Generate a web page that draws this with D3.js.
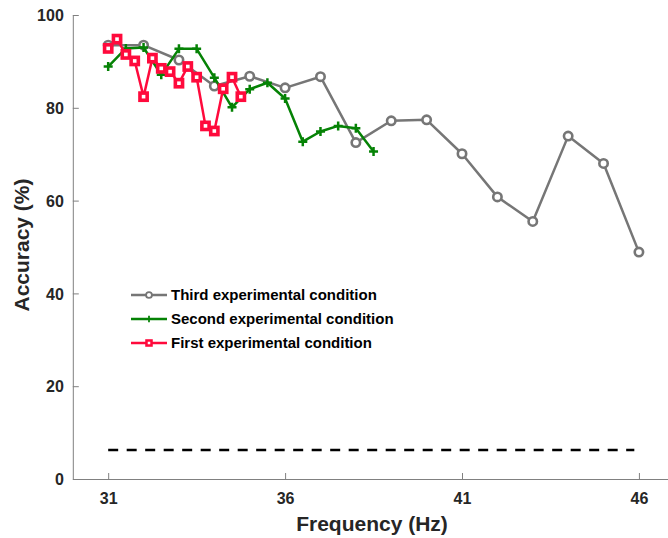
<!DOCTYPE html>
<html><head><meta charset="utf-8">
<script src="https://cdn.jsdelivr.net/npm/d3@7"></script>
<style>body{margin:0;background:#fff}svg{display:block}text{font-family:"Liberation Sans",Arial,sans-serif;font-weight:bold}</style>
</head><body><div id="chart"></div>
<script>
const thirdFreq = [31,32,33,34,35,36,37,38,39,40,41,42,43,44,45,46];
const thirdAcc  = [93.5,93.5,90.3,84.7,86.8,84.3,86.7,72.5,77.2,77.4,70.1,60.8,55.5,73.9,68.0,48.9];
const secondFreq = [31,31.5,32,32.5,33,33.5,34,34.5,35,35.5,36,36.5,37,37.5,38,38.5];
const secondAcc  = [88.9,92.8,93.0,87.1,92.7,92.7,86.5,80.1,84.0,85.4,82.0,72.7,74.9,76.1,75.6,70.6];
const firstFreq = [31,31.25,31.5,31.75,32,32.25,32.5,32.75,33,33.25,33.5,33.75,34,34.25,34.5,34.75];
const firstAcc  = [92.8,94.8,91.5,90.1,82.4,90.7,88.5,87.8,85.3,88.9,86.6,76.1,75.0,84.1,86.6,82.4];
const chanceLevel = 6.25;
const chanceRange = [31,45.87];
const xTicks = [31,36,41,46];
const yTicks = [0,20,40,60,80,100];
const legendLabels = ["Third experimental condition","Second experimental condition","First experimental condition"];

const W = 668, H = 538;
const svg = d3.select("#chart").append("svg").attr("width", W).attr("height", H);
const x = d3.scaleLinear().domain([30, 47]).range([72.8, 674.3]);
const y = d3.scaleLinear().domain([0, 100]).range([479, 15]);

const axisColor = "#808080", labelColor = "#262626";

const gx = svg.append("g").attr("transform", `translate(0,${y(0)})`)
  .call(d3.axisBottom(x).tickValues(xTicks).tickSizeInner(-6).tickSizeOuter(0).tickPadding(14).tickFormat(d3.format("d")));
const gy = svg.append("g").attr("transform", `translate(${x(30)},0)`)
  .call(d3.axisLeft(y).tickValues(yTicks).tickSizeInner(-6).tickSizeOuter(0).tickPadding(9));
[gx, gy].forEach(g => {
  g.select(".domain").attr("stroke", axisColor).attr("stroke-width", 1);
  g.selectAll(".tick line").attr("stroke", axisColor);
  g.selectAll(".tick text").attr("fill", labelColor).attr("font-size", 16).attr("font-weight", "bold")
    .attr("font-family", '"Liberation Sans",Arial,sans-serif');
});
gy.selectAll(".tick text").attr("dy", "0.35em");

svg.append("text").attr("x", 372).attr("y", 531).attr("text-anchor", "middle")
  .attr("font-size", 21).attr("fill", labelColor).text("Frequency (Hz)");
svg.append("text").attr("transform", "translate(29,245) rotate(-90)").attr("text-anchor", "middle")
  .attr("font-size", 21).attr("fill", labelColor).text("Accuracy (%)");

svg.append("line").attr("x1", x(chanceRange[0])).attr("x2", x(chanceRange[1]))
  .attr("y1", y(chanceLevel)).attr("y2", y(chanceLevel))
  .attr("stroke", "#000").attr("stroke-width", 2.5).attr("stroke-dasharray", "10,8.5");

const line = d3.line().x(d => x(d[0])).y(d => y(d[1]));
const series = [
  {f: thirdFreq, a: thirdAcc, color: "#767676", mark: "circle"},
  {f: secondFreq, a: secondAcc, color: "#058205", mark: "plus"},
  {f: firstFreq, a: firstAcc, color: "#ff0a3c", mark: "square"}
];

function drawMarker(g, mark, color, cx, cy, k) {
  if (mark === "circle") {
    g.append("circle").attr("cx", cx).attr("cy", cy).attr("r", 4.2 * k)
      .attr("fill", "#fff").attr("stroke", color).attr("stroke-width", 2.6 * k);
  } else if (mark === "plus") {
    const h = 4.5 * k;
    g.append("path").attr("d", `M${cx-h},${cy}H${cx+h}M${cx},${cy-h}V${cy+h}`)
      .attr("stroke", color).attr("stroke-width", 2.5 * k).attr("fill", "none");
  } else {
    const h = 3.6 * k;
    g.append("rect").attr("x", cx-h).attr("y", cy-h).attr("width", 2*h).attr("height", 2*h)
      .attr("fill", "#fff").attr("stroke", color).attr("stroke-width", 3.6 * k);
  }
}

series.forEach(s => {
  const pts = s.f.map((f, i) => [f, s.a[i]]);
  const g = svg.append("g");
  g.append("path").datum(pts).attr("d", line).attr("fill", "none")
    .attr("stroke", s.color).attr("stroke-width", 2.5).attr("stroke-linejoin", "round");
  pts.forEach(p => drawMarker(g, s.mark, s.color, x(p[0]), y(p[1]), 1));
});

const leg = svg.append("g");
legendLabels.forEach((lab, i) => {
  const s = series[i];
  const ly = 295 + i * 24;
  leg.append("line").attr("x1", 131).attr("x2", 167).attr("y1", ly).attr("y2", ly)
    .attr("stroke", s.color).attr("stroke-width", 2.5);
  drawMarker(leg, s.mark, s.color, 149, ly, 0.7);
  leg.append("text").attr("x", 171).attr("y", ly).attr("dy", "0.36em")
    .attr("font-size", 15).attr("fill", "#000").text(lab);
});
</script></body></html>
